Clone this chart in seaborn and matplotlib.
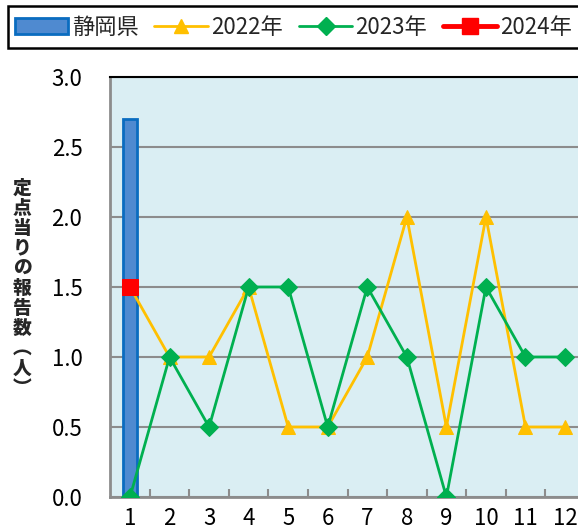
# 静岡県 定点当りの報告数 chart
import numpy as np
import pandas as pd
import matplotlib
matplotlib.use("Agg")
import matplotlib.pyplot as plt
import seaborn as sns
from matplotlib.lines import Line2D
from matplotlib.patches import Patch, Rectangle

# Data
months = [1, 2, 3, 4, 5, 6, 7, 8, 9, 10, 11, 12]
month_labels = [str(m) for m in months]
bar_months = ["1"]
bar_values = [2.7]
y2022 = [1.5, 1.0, 1.0, 1.5, 0.5, 0.5, 1.0, 2.0, 0.5, 2.0, 0.5, 0.5]
y2023 = [0.0, 1.0, 0.5, 1.5, 1.5, 0.5, 1.5, 1.0, 0.0, 1.5, 1.0, 1.0]
y2024 = [1.5]
ylabel_text = "定点当りの報告数︵人︶"

sns.set_theme(style="white")
plt.rcParams['font.family'] = ['Noto Sans CJK JP', 'DejaVu Sans']

W, H = 578, 532
fig = plt.figure(figsize=(W / 100, H / 100), dpi=100)
ax = fig.add_axes([0.1907, 0.0658, 0.8211, 0.7895])
ax.set_facecolor("#DAEEF3")

# Bar (静岡県)
df_bar = pd.DataFrame({"month": bar_months, "value": bar_values})
sns.barplot(data=df_bar, x="month", y="value", order=month_labels, ax=ax,
            color="#4F8AD0", edgecolor="#0A6CC0", linewidth=2, width=0.33,
            saturation=1, zorder=3)

# Lines
pos = np.arange(len(months))
df22 = pd.DataFrame({"x": pos, "y": y2022})
df23 = pd.DataFrame({"x": pos, "y": y2023})
df24 = pd.DataFrame({"x": pos[:len(y2024)], "y": y2024})
sns.lineplot(data=df22, x="x", y="y", ax=ax, color="#FFC000", linewidth=2,
             marker="^", markersize=10, markeredgecolor="#FFC000", zorder=4)
sns.lineplot(data=df23, x="x", y="y", ax=ax, color="#00B050", linewidth=2,
             marker="D", markersize=9, markeredgecolor="#00B050", zorder=5)
sns.lineplot(data=df24, x="x", y="y", ax=ax, color="#FF0000", linewidth=3,
             marker="s", markersize=12, markeredgecolor="#FF0000", zorder=6)

ax.set_xlim(-0.5, 11.5)
ax.set_ylim(0, 3.0)
ax.set_yticks(np.arange(0, 3.01, 0.5))
ax.set_yticklabels([f"{v:.1f}" for v in np.arange(0, 3.01, 0.5)])
ax.set_xticks(pos)
ax.set_xticklabels(month_labels)
ax.set_xticks(np.arange(0.5, 11.5, 1), minor=True)
ax.yaxis.grid(True, color="#8C8C8C", linewidth=1.5, zorder=1)
ax.set_axisbelow(True)
ax.tick_params(axis="y", length=0, pad=20, labelsize=16, colors="black")
ax.tick_params(axis="x", which="major", length=0, pad=7, labelsize=16, colors="black")
ax.tick_params(axis="x", which="minor", direction="in", length=6, width=1.5,
               color="#8C8C8C", bottom=True)
ax.set_xlabel("")
ax.set_ylabel("")
for s in ["left", "bottom"]:
    ax.spines[s].set_color("#8C8C8C")
    ax.spines[s].set_linewidth(2)
ax.spines["top"].set_color("black")
ax.spines["top"].set_linewidth(1.5)
ax.spines["right"].set_visible(False)

# vertical y label, one character per line
for i, ch in enumerate(ylabel_text):
    fig.text(22 / W, 1 - (188 + 20 * i) / H, ch, ha="center", va="center",
             fontsize=13.5, fontweight="heavy")

# Legend (frame runs past the right edge, as in the original)
fig.patches.append(Rectangle((8 / W, 1 - 48 / H), 600 / W, 42 / H,
                             transform=fig.transFigure, facecolor="white",
                             edgecolor="black", linewidth=1.8, zorder=0))
handles = [
    Patch(facecolor="#4F8AD0", edgecolor="#0A6CC0", linewidth=2),
    Line2D([], [], color="#FFC000", linewidth=2, marker="^", markersize=10),
    Line2D([], [], color="#00B050", linewidth=2, marker="D", markersize=9),
    Line2D([], [], color="#FF0000", linewidth=3.5, marker="s", markersize=12),
]
labels = ["静岡県", "2022年", "2023年", "2024年"]
fig.legend(handles, labels, loc="center left", bbox_to_anchor=(15 / W, 1 - 27 / H),
           ncol=4, fontsize=16, frameon=False, handlelength=2.4,
           handletextpad=0.15, columnspacing=0.72, borderpad=0, borderaxespad=0)

plt.savefig("out.png", dpi=100)
